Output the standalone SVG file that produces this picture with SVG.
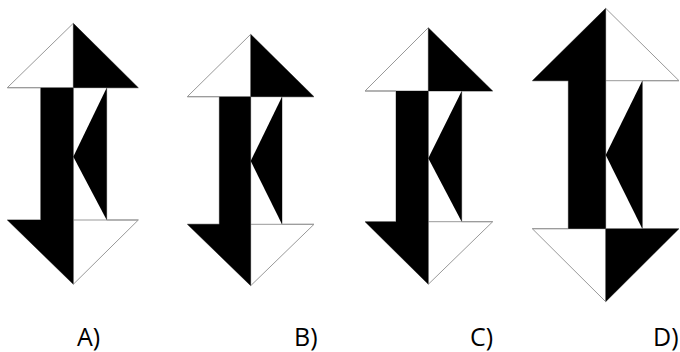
<svg xmlns="http://www.w3.org/2000/svg" width="680" height="352" viewBox="0 0 680 352">
<style>
.o{fill:#fff;stroke:#999;stroke-width:1}
.l{stroke:#999;stroke-width:1;fill:none}
.b{fill:#000}
.t{font-family:"Open Sans","Noto Sans",sans-serif;font-size:25px;fill:#000}
</style>
<rect width="680" height="352" fill="#fff"/>
<g id="figA">
<polygon class="o" points="73.3,23.3 138.3,87.7 106.7,87.7 106.7,220 138.3,220 73.3,284.3 7.3,220 40.7,220 40.7,87.7 7.3,87.7"/>
<path class="l" d="M73.3,23.3V284.3M7.3,87.7H138.3M7.3,220H138.3"/>
<polygon class="b" points="73.3,23.3 138.3,87.7 73.3,87.7"/>
<polygon class="b" points="40.7,87.7 73.3,87.7 73.3,284.3 7.3,220 40.7,220"/>
<polygon class="b" points="106.7,87.7 73.3,156.7 106.7,220"/>
</g>
<g id="figB">
<polygon class="o" points="250.7,34.3 314,96.7 282,96.7 282,224.3 314,224.3 250.7,285.7 187.3,224.3 219.3,224.3 219.3,96.7 187.3,96.7"/>
<path class="l" d="M250.7,34.3V285.7M187.3,96.7H314M187.3,224.3H314"/>
<polygon class="b" points="250.7,34.3 314,96.7 250.7,96.7"/>
<polygon class="b" points="219.3,96.7 250.7,96.7 250.7,285.7 187.3,224.3 219.3,224.3"/>
<polygon class="b" points="282,96.7 250.7,161 282,224.3"/>
</g>
<g id="figC">
<polygon class="o" points="428.3,27.7 492.7,91 461.7,91 461.7,221.7 492.7,221.7 428.3,284.3 365,221.7 396,221.7 396,91 365,91"/>
<path class="l" d="M428.3,27.7V284.3M365,91H492.7M365,221.7H492.7"/>
<polygon class="b" points="428.3,27.7 492.7,91 428.3,91"/>
<polygon class="b" points="396,91 428.3,91 428.3,284.3 365,221.7 396,221.7"/>
<polygon class="b" points="461.7,91 428.3,158.3 461.7,221.7"/>
</g>
<g id="figD">
<polygon class="o" points="605.7,8.3 679,80.7 642.3,80.7 642.3,228.7 679,228.7 605.7,301.7 532.3,228.7 568.3,228.7 568.3,80.7 532.3,80.7"/>
<path class="l" d="M605.7,8.3V301.7M532.3,80.7H679M532.3,228.7H679"/>
<polygon class="b" points="605.7,8.3 605.7,228.7 568.3,228.7 568.3,80.7 532.3,80.7"/>
<polygon class="b" points="605.7,228.7 679,228.7 605.7,301.7"/>
<polygon class="b" points="642.3,80.7 605.7,155 642.3,228.7"/>
</g>
<g id="labels">
<text class="t" x="77" y="346">A)</text>
<text class="t" x="294" y="346">B)</text>
<text class="t" x="470" y="346">C)</text>
<text class="t" x="653" y="346">D)</text>
</g>
</svg>
